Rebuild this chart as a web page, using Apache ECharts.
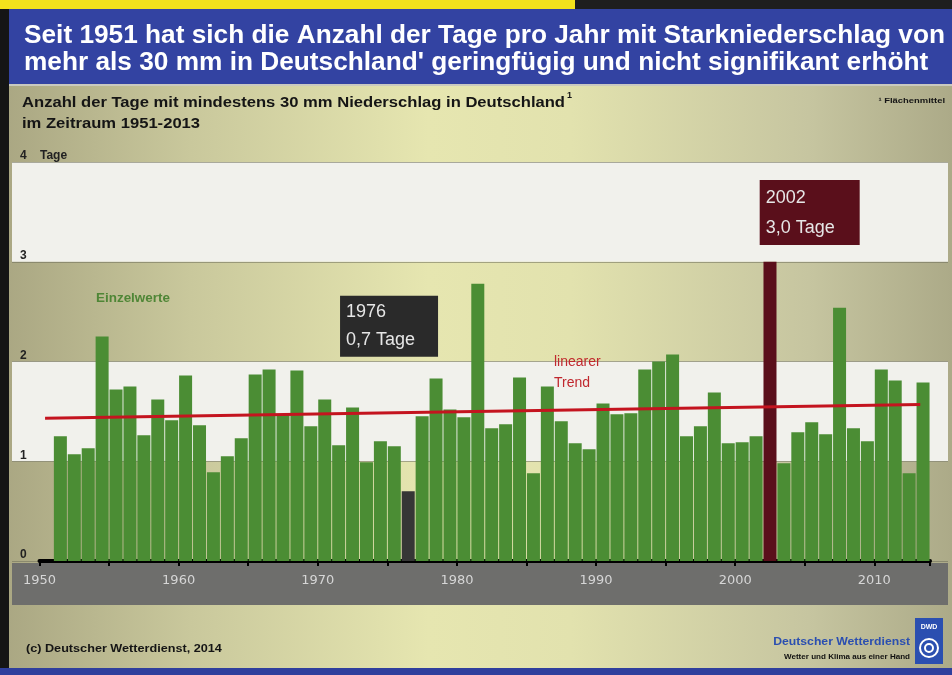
<!DOCTYPE html>
<html>
<head>
<meta charset="utf-8">
<script src="https://cdn.jsdelivr.net/npm/echarts@6/dist/echarts.min.js"></script>
<style>
html,body{margin:0;padding:0;}
#c{width:952px;height:675px;background:linear-gradient(to right,#a9a682 0%,#c9c89c 20%,#e6e6b0 45%,#e2e2ae 60%,#c6c5a0 85%,#acaa88 100%);}
</style>
</head>
<body>
<div id="c"></div>
<script>
// ---- data ----
const years = [1951,1952,1953,1954,1955,1956,1957,1958,1959,1960,1961,1962,1963,1964,1965,1966,1967,1968,1969,1970,
  1971,1972,1973,1974,1975,1976,1977,1978,1979,1980,1981,1982,1983,1984,1985,1986,1987,1988,1989,1990,
  1991,1992,1993,1994,1995,1996,1997,1998,1999,2000,2001,2002,2003,2004,2005,2006,2007,2008,2009,2010,
  2011,2012,2013];
const days = [1.25,1.07,1.13,2.25,1.72,1.75,1.26,1.62,1.41,1.86,1.36,0.89,1.05,1.23,1.87,1.92,1.47,1.91,1.35,1.62,
  1.16,1.54,0.99,1.20,1.15,0.70,1.45,1.83,1.52,1.44,2.78,1.33,1.37,1.84,0.88,1.75,1.40,1.18,1.12,1.58,
  1.47,1.48,1.92,2.00,2.07,1.25,1.35,1.69,1.18,1.19,1.25,3.00,0.98,1.29,1.39,1.27,2.54,1.33,1.20,1.92,
  1.81,0.88,1.79];
const trendYears = [1950.4, 2013.3];
const trendValues = [1.43, 1.57];
const xTicks = [1950,1960,1970,1980,1990,2000,2010];
const yTicks = [0,1,2,3,4];
const highlightLabels = ['1976\n0,7 Tage', '2002\n3,0 Tage'];

const FONT = '"Liberation Sans", Arial, sans-serif';
const chart = echarts.init(document.getElementById('c'), null, {renderer:'canvas'});

// text measuring for horizontally stretched lettering
const mctx = document.createElement('canvas').getContext('2d');
function measure(text, font){ mctx.font = font; return mctx.measureText(text).width; }
function scaledText(text, font, x, y, s, fill, align){
  return {type:'text', z:10, x:x, y:y, scaleX:s, scaleY:1,
    style:{text:text, x:0, y:0, fill:fill, font:font, verticalAlign:'middle', align:align||'left'}};
}

const titleFont = 'bold 25px ' + FONT;
const title1 = 'Seit 1951 hat sich die Anzahl der Tage pro Jahr mit Starkniederschlag von';
const title2 = "mehr als 30 mm in Deutschland' geringfügig und nicht signifikant erhöht";
const tScale = 921 / measure(title1, titleFont);
const subFont = 'bold 15px ' + FONT;
const sub1 = 'Anzahl der Tage mit mindestens 30 mm Niederschlag in Deutschland';
const sub2 = 'im Zeitraum 1951-2013';
const sScale = 543 / measure(sub1, subFont);

const barColors = {1976:'#363636', 2002:'#5a0f1b'};
const barData = years.map((y,i)=>{
  const d = {value:[y+0.5, days[i]]};
  if (barColors[y]) d.itemStyle = {color:barColors[y]};
  return d;
});

const option = {
  animation:false,
  backgroundColor:'transparent',
  grid:[
    {left:12,right:4,top:162,bottom:114},
    {left:39.5,right:22,top:162,bottom:114}
  ],
  xAxis:[
    {gridIndex:0,type:'value',min:0,max:1,show:false},
    {gridIndex:1,type:'value',min:1950,max:2014,interval:5,
     axisLine:{show:true,lineStyle:{color:'#000',width:4}},
     axisTick:{show:true,length:5,lineStyle:{color:'#000',width:2}},
     splitLine:{show:false},
     axisLabel:{color:'#d6d6d6',fontSize:13,fontFamily:'"DejaVu Sans", sans-serif',margin:13,
       formatter:v=> xTicks.indexOf(v)>=0 ? String(v) : ''}}
  ],
  yAxis:[
    {gridIndex:0,type:'value',min:0,max:4,interval:1,
     axisLine:{show:false},axisTick:{show:false},
     splitLine:{show:true,lineStyle:{color:'rgba(110,110,90,0.55)',width:1}},
     splitArea:{show:true,areaStyle:{color:['rgba(0,0,0,0)','#f1f1ec']}},
     axisLabel:{inside:true,margin:8,color:'#222',fontSize:12,fontWeight:'bold',fontFamily:FONT,
       verticalAlign:'bottom',lineHeight:12,
       formatter:v=> yTicks.indexOf(v)<0 ? '' : (v===4 ? '4    Tage' : String(v))}},
    {gridIndex:1,type:'value',min:0,max:4,show:false}
  ],
  series:[
    {type:'bar',xAxisIndex:1,yAxisIndex:1,barWidth:13,data:barData,
     itemStyle:{color:'#4b8d34'},z:3,
     markPoint:{symbol:'rect',symbolSize:1,itemStyle:{color:'rgba(0,0,0,0)'},
       data:[
         {coord:[1971.6,2.66],label:{formatter:highlightLabels[0],backgroundColor:'#2a2a2a',
           width:86,padding:[2,6,3,6],lineHeight:28}},
         {coord:[2001.76,3.82],label:{formatter:highlightLabels[1],backgroundColor:'#5a0f1b',
           width:88,padding:[3,6,2,6],lineHeight:30}}
       ],
       label:{show:true,position:'inside',align:'left',verticalAlign:'top',color:'#e6e6e6',
         fontSize:18,fontFamily:FONT}}
    },
    {type:'line',xAxisIndex:1,yAxisIndex:1,symbol:'none',z:5,
     data:trendYears.map((y,i)=>[y,trendValues[i]]),
     lineStyle:{color:'#c4141f',width:3}}
  ],
  graphic:[
    {type:'rect',z:-1,shape:{x:0,y:0,width:575,height:9},style:{fill:'#f3e21c'}},
    {type:'rect',z:-1,shape:{x:575,y:0,width:377,height:9},style:{fill:'#1e1e1e'}},
    {type:'rect',z:-1,shape:{x:0,y:9,width:9,height:666},style:{fill:'#151515'}},
    {type:'rect',z:-1,shape:{x:9,y:9,width:943,height:75},style:{fill:'#3343a2'}},
    {type:'rect',z:-1,shape:{x:9,y:84,width:943,height:2},style:{fill:'#c9c9c0'}},
    {type:'rect',z:-1,shape:{x:12,y:563,width:936,height:42},style:{fill:'#6e6e6c'}},
    {type:'rect',z:-1,shape:{x:0,y:668,width:952,height:7},style:{fill:'#2f3f9d'}},
    scaledText(title1, titleFont, 24, 36, tScale, '#ffffff'),
    scaledText(title2, titleFont, 24, 63, tScale, '#ffffff'),
    scaledText(sub1, subFont, 22, 103, sScale, '#151515'),
    {type:'text',z:10,style:{text:'1',x:567,y:96,fill:'#151515',font:'bold 9px '+FONT,verticalAlign:'middle'}},
    scaledText(sub2, subFont, 22, 124, sScale, '#151515'),
    scaledText('¹ Flächenmittel', 'bold 8px '+FONT, 945, 101, 1.18, '#151515', 'right'),
    scaledText('Einzelwerte', 'bold 12px '+FONT, 96, 299, 1.12, '#4f8636'),
    {type:'text',z:10,x:554,y:373,style:{text:'linearer\nTrend',x:0,y:0,fill:'#c0282e',font:'14px '+FONT,lineHeight:21,verticalAlign:'middle'}},
    scaledText('(c) Deutscher Wetterdienst, 2014', 'bold 11px '+FONT, 26, 649, 1.15, '#151515'),
    scaledText('Deutscher Wetterdienst', 'bold 11px '+FONT, 910, 642, 1.11, '#2b4fb0', 'right'),
    scaledText('Wetter und Klima aus einer Hand', 'bold 7px '+FONT, 910, 657, 1.15, '#111', 'right'),
    {type:'rect',z:10,shape:{x:915,y:618,width:28,height:46},style:{fill:'#2b4fb0'}},
    {type:'text',z:11,style:{text:'DWD',x:929,y:627,align:'center',fill:'#fff',font:'bold 7px '+FONT,verticalAlign:'middle'}},
    {type:'circle',z:11,shape:{cx:929,cy:648,r:9},style:{fill:'none',stroke:'#fff',lineWidth:2}},
    {type:'circle',z:11,shape:{cx:929,cy:648,r:4},style:{fill:'none',stroke:'#fff',lineWidth:2}}
  ]
};
chart.setOption(option);
</script>
</body>
</html>
